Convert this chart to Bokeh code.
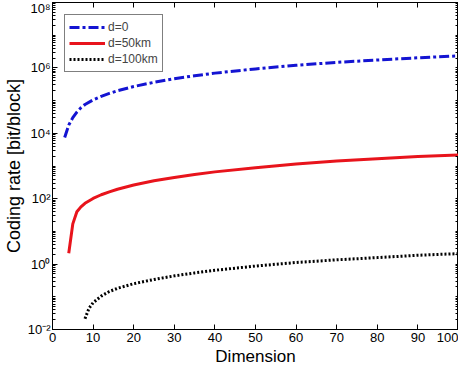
from bokeh.plotting import figure
from bokeh.models import (LinearAxis, LogAxis, FixedTicker, CustomJSTickFormatter,
                          Legend, LegendItem, Range1d, Title)
from bokeh.embed import file_html
from bokeh.resources import INLINE

# ---- data ----
n_d0 = [3, 4, 5, 6, 7, 8, 10, 12, 14, 16, 20, 25, 30, 35, 40, 50, 60, 70, 80, 90, 100]
rate_d0 = [7.41e3, 1.78e4, 3.02e4, 4.47e4, 6.03e4, 7.59e4, 1.05e5, 1.35e5, 1.66e5, 2.0e5,
           2.69e5, 3.63e5, 4.68e5, 5.75e5, 6.92e5, 9.33e5, 1.20e6, 1.48e6, 1.74e6, 2.04e6, 2.34e6]

n_d50 = [4, 5, 6, 7, 8, 10, 12, 14, 16, 20, 25, 30, 35, 40, 50, 60, 70, 80, 90, 100]
rate_d50 = [2.14, 17.0, 39.8, 56.2, 72.4, 102, 132, 162, 195, 263, 355, 447, 550, 661,
            891, 1148, 1413, 1660, 1950, 2188]

n_d100 = [8, 9, 10, 12, 14, 16, 20, 25, 30, 35, 40, 50, 60, 70, 80, 90, 100]
rate_d100 = [0.0214, 0.0447, 0.0661, 0.105, 0.145, 0.182, 0.251, 0.339, 0.437, 0.537,
             0.646, 0.871, 1.12, 1.35, 1.58, 1.86, 2.09]

labels = ["d=0", "d=50km", "d=100km"]
x_ticks = [0, 10, 20, 30, 40, 50, 60, 70, 80, 90, 100]
y_ticks = [1e-2, 1e0, 1e2, 1e4, 1e6, 1e8]
x_title = "Dimension"
y_title = "Coding rate [bit/block]"

FONT = "Liberation Sans"

p = figure(width=458, height=365, x_range=Range1d(0, 100), y_range=Range1d(1e-2, 1e8),
           y_axis_type="log", output_backend="svg", toolbar_location=None,
           min_border_left=45, min_border_right=0, min_border_top=2, min_border_bottom=0)
p.background_fill_color = "white"
p.border_fill_color = "white"
p.outline_line_color = "black"
p.xgrid.visible = False
p.ygrid.visible = False

y_minor = []
for k in range(-2, 8):
    for m in range(1, 10):
        v = m * 10.0 ** k
        if v not in y_ticks:
            y_minor.append(v)

sup_js = """
const e = Math.round(Math.log10(tick));
const s = {'-':'\u207b','0':'\u2070','1':'\u00b9','2':'\u00b2','3':'\u00b3','4':'\u2074',
           '5':'\u2075','6':'\u2076','7':'\u2077','8':'\u2078','9':'\u2079'};
return '10' + String(e).split('').map(c => s[c]).join('');
"""

def style_axis(ax):
    ax.axis_line_color = "black"
    ax.major_tick_line_color = "black"
    ax.minor_tick_line_color = "black"
    ax.major_tick_in = 5
    ax.major_tick_out = 0
    ax.minor_tick_in = 3
    ax.minor_tick_out = 0
    ax.major_label_text_font = FONT
    ax.major_label_text_font_size = "13px"
    ax.major_label_text_color = "black"
    ax.axis_label_text_font = FONT
    ax.axis_label_text_font_size = "18px"
    ax.axis_label_text_font_style = "normal"
    ax.axis_label_text_color = "black"

xa = p.xaxis[0]
xa.ticker = FixedTicker(ticks=x_ticks)
style_axis(xa)
xa.major_label_standoff = 3

ya = p.yaxis[0]
ya.ticker = FixedTicker(ticks=y_ticks, minor_ticks=y_minor)
ya.formatter = CustomJSTickFormatter(code=sup_js)
ya.axis_label = y_title
style_axis(ya)
ya.major_label_standoff = 2
ya.axis_label_standoff = 1

# mirrored box ticks (no labels): everything given as minor ticks
top = LinearAxis(ticker=FixedTicker(ticks=[], minor_ticks=x_ticks))
style_axis(top)
top.minor_tick_in = 5
top.major_label_standoff = 0
top.axis_label_standoff = 0
p.add_layout(top, "above")

right = LogAxis(ticker=FixedTicker(ticks=[], minor_ticks=y_ticks + y_minor))
style_axis(right)
right.minor_tick_in = 3
right.major_label_standoff = 0
right.axis_label_standoff = 0
p.add_layout(right, "right")

p.add_layout(Title(text=x_title, align="center", text_font=FONT, text_font_size="17px",
                   text_font_style="normal", text_color="black", standoff=0, offset=0), "below")

r0 = p.line(n_d0, rate_d0, line_color="#1414d2", line_width=3, line_dash="10 3 3 3")
r1 = p.line(n_d50, rate_d50, line_color="#e8141c", line_width=3)
r2 = p.line(n_d100, rate_d100, line_color="black", line_width=3, line_dash="2 2")

legend = Legend(items=[LegendItem(label=labels[0], renderers=[r0]),
                       LegendItem(label=labels[1], renderers=[r1]),
                       LegendItem(label=labels[2], renderers=[r2])],
                location="top_left", margin=12, padding=4, spacing=0,
                glyph_width=36, glyph_height=16, label_height=16, label_standoff=3,
                label_text_font=FONT, label_text_font_size="12px",
                border_line_color="black", border_line_width=1,
                background_fill_color="white", background_fill_alpha=1)
p.add_layout(legend, "center")

open("out.html", "w").write(file_html(p, INLINE))
